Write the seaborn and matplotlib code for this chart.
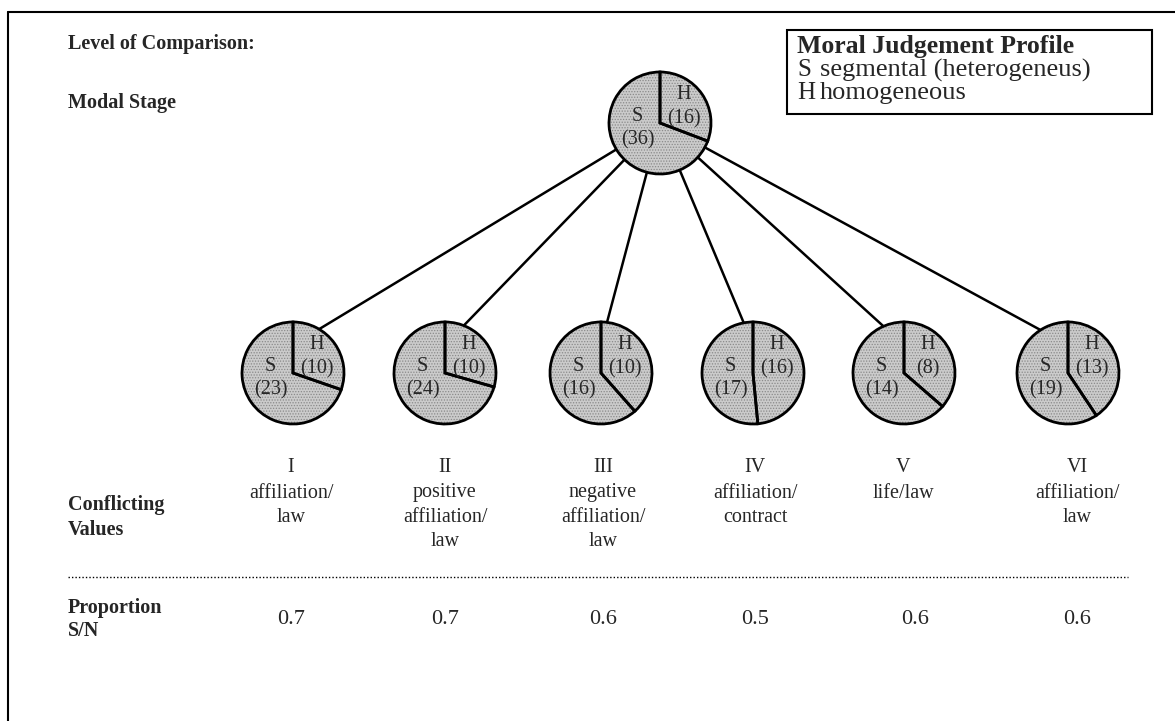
import numpy as np
import matplotlib
matplotlib.use("Agg")
import matplotlib.pyplot as plt
import seaborn as sns

# ---------------- data ----------------
top_label = "Modal Stage"
top_S = 36
top_H = 16

stage_numerals = ["I", "II", "III", "IV", "V", "VI"]
conflicting_values = [
    ["affiliation/", "law"],
    ["positive", "affiliation/", "law"],
    ["negative", "affiliation/", "law"],
    ["affiliation/", "contract"],
    ["life/law"],
    ["affiliation/", "law"],
]
S_counts = [23, 24, 16, 17, 14, 19]
H_counts = [10, 10, 10, 16, 8, 13]
proportions = [0.7, 0.7, 0.6, 0.5, 0.6, 0.6]

legend_title = "Moral Judgement Profile"
legend_keys = ["S", "H"]
legend_texts = ["segmental (heterogeneus)", "homogeneous"]

# ---------------- style / layout ----------------
sns.set_theme(style="white")
plt.rcParams["font.family"] = ["Liberation Serif", "DejaVu Serif"]
plt.rcParams["hatch.linewidth"] = 0.6

W, H = 1175, 721
fig = plt.figure(figsize=(W / 100, H / 100), dpi=100)
ax = fig.add_axes([0, 0, 1, 1])
ax.set_xlim(0, W)
ax.set_ylim(H, 0)
ax.set_autoscale_on(False)
ax.axis("off")

R = 51
top_center = (660, 123)
pie_x = [293, 445, 601, 753, 904, 1068]
text_x = [291, 445, 603, 755, 903, 1077]
value_x = [291, 445, 603, 755, 915, 1077]
pie_y = 373
fill = "#cbcbcb"
dot = "#8a8a8a"

# label anchor offsets in units of the radius (S on the left, H on the right)
lab_off = {"S": (-0.44, 0.10), "H": (0.46, -0.32)}


def draw_pie(cx, cy, s, h):
    vals = [h, s]
    common = dict(center=(cx, cy), radius=R, startangle=-90,
                  counterclock=True, frame=True)
    ax.pie(vals, colors=[fill, fill],
           wedgeprops=dict(edgecolor=dot, linewidth=0, hatch="......"),
           **common)
    ax.pie(vals, wedgeprops=dict(fill=False, edgecolor="black",
                                 linewidth=2.0), **common)
    ax.set_xlim(0, W)
    ax.set_ylim(H, 0)
    for key, n in (("H", h), ("S", s)):
        ox, oy = lab_off[key]
        lx = cx + ox * R
        ly = cy + oy * R
        ax.text(lx, ly - 0.23 * R, key, ha="center", va="center",
                fontsize=14.5, zorder=5)
        ax.text(lx, ly + 0.23 * R, f"({n})", ha="center", va="center",
                fontsize=14.5, zorder=5)


# connecting lines (drawn beneath the pies)
for x in pie_x:
    ax.plot([top_center[0], x], [top_center[1], pie_y - 0.55 * R],
            color="black", lw=1.8, zorder=0.5)

draw_pie(top_center[0], top_center[1], top_S, top_H)
for x, s, h in zip(pie_x, S_counts, H_counts):
    draw_pie(x, pie_y, s, h)

# frame
ax.plot([8, W], [12, 12], color="black", lw=1.5)
ax.plot([8, 8], [12, H], color="black", lw=1.5)

# left-hand labels
bold = dict(fontsize=14.5, fontweight="bold", ha="left", va="center")
ax.text(68, 44, "Level of Comparison:", **bold)
ax.text(68, 103, top_label, **bold)
ax.text(68, 505, "Conflicting", **bold)
ax.text(68, 530, "Values", **bold)
ax.text(68, 608, "Proportion", **bold)
ax.text(68, 631, "S/N", **bold)

# legend box
ax.add_patch(plt.Rectangle((787, 30), 365, 84, fill=False,
                           edgecolor="black", lw=1.5))
ax.text(797, 47, legend_title, fontsize=18.5, fontweight="bold",
        ha="left", va="center")
for i, (k, t) in enumerate(zip(legend_keys, legend_texts)):
    yy = 70 + 23 * i
    ax.text(797, yy, k, fontsize=18, ha="left", va="center")
    ax.text(820, yy, t, fontsize=19, ha="left", va="center")

# category columns
for x, xv, num, lines, p in zip(text_x, value_x, stage_numerals,
                                conflicting_values, proportions):
    ax.text(x, 468, num, fontsize=14.5, ha="center", va="center")
    for j, ln in enumerate(lines):
        ax.text(x, 493 + 24 * j, ln, fontsize=14.5, ha="center",
                va="center")
    ax.text(xv, 620, f"{p:.1f}", fontsize=16, ha="center", va="center")

# dotted separator
ax.plot([68, 1128], [577, 577], color="black", lw=1.0, ls=(0, (1, 1.5)))

fig.savefig("out.png", dpi=100)
